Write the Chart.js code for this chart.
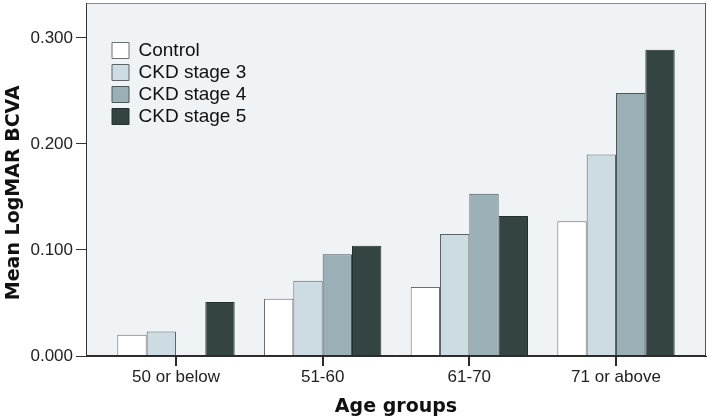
<!DOCTYPE html>
<html>
<head>
<meta charset="utf-8">
<title>Mean LogMAR BCVA by age group</title>
<script src="https://cdn.jsdelivr.net/npm/chart.js@4/dist/chart.umd.min.js"></script>
<style>
	body { margin: 0; background: #fff; }
</style>
</head>
<body>
<canvas id="canvas" width="709" height="420"></canvas>
<script>
var categories = ["50 or below", "51-60", "61-70", "71 or above"];
var control    = [0.020, 0.054, 0.065, 0.127];
var ckd3       = [0.023, 0.071, 0.115, 0.190];
var ckd4       = [null,  0.096, 0.153, 0.248];
var ckd5       = [0.051, 0.104, 0.132, 0.289];
var yTicks     = [0, 0.1, 0.2, 0.3];

// bars sit on a linear x scale so the groups can keep some room at the edges
function points(values) {
	return values.map(function(v, i) { return { x: i, y: v }; });
}

var plotFrame = {
	id: 'plotFrame',
	beforeDraw: function(chart) {
		var a = chart.chartArea, ctx = chart.ctx;
		ctx.save();
		ctx.fillStyle = '#eff3f6';
		ctx.fillRect(a.left, a.top, a.right - a.left, a.bottom - a.top);
		ctx.fillStyle = '#8c8c8c';
		ctx.fillRect(a.left, a.top, a.right - a.left, 1);
		ctx.fillStyle = '#555';
		ctx.fillRect(a.right - 1, a.top, 1, a.bottom - a.top);
		ctx.restore();
	},
	afterDraw: function(chart) {
		// bottom axis line and category tick marks
		var a = chart.chartArea, ctx = chart.ctx, xs = chart.scales.x;
		ctx.save();
		ctx.fillStyle = '#2a2a2a';
		ctx.fillRect(a.left, a.bottom - 1, a.right - a.left, 1.5);
		xs.ticks.forEach(function(t, i) {
			var px = Math.round(xs.getPixelForTick(i));
			ctx.fillRect(px - 1, a.bottom, 2, 10);
		});
		ctx.restore();
	},
	afterLayout: function(chart) {
		// move the legend in from the corner
		chart.legend.left += 23;
		chart.legend.top += 38;
	}
};

var tickFont  = { family: 'Liberation Sans', size: 17 };
var titleFont = { family: 'DejaVu Sans', size: 19, weight: 'bold' };

var ctx = document.getElementById("canvas").getContext("2d");
var chart = new Chart(ctx, {
	type: 'bar',
	data: {
		datasets: [
			{ label: 'Control',     data: points(control), backgroundColor: '#ffffff', borderColor: '#6e6e6e', borderWidth: 1 },
			{ label: 'CKD stage 3', data: points(ckd3),    backgroundColor: '#cddbe2', borderColor: '#5e6466', borderWidth: 1 },
			{ label: 'CKD stage 4', data: points(ckd4),    backgroundColor: '#9aafb6', borderColor: '#4e5658', borderWidth: 1 },
			{ label: 'CKD stage 5', data: points(ckd5),    backgroundColor: '#334443', borderColor: '#253030', borderWidth: 1 }
		]
	},
	options: {
		responsive: false,
		animation: false,
		devicePixelRatio: 1,
		categoryPercentage: 0.8,
		barPercentage: 1.0,
		layout: { padding: { left: 0, top: 3, right: 3, bottom: 0 } },
		scales: {
			x: {
				type: 'linear',
				offset: false,
				min: -0.6135,
				max: 3.6135,
				afterBuildTicks: function(scale) {
					scale.ticks = categories.map(function(c, i) { return { value: i }; });
				},
				ticks: {
					callback: function(v) { return categories[v]; },
					font: tickFont,
					color: '#222',
					padding: 11,
					maxRotation: 0,
					autoSkip: false
				},
				grid: { offset: false, drawOnChartArea: false, drawTicks: false, color: '#333' },
				border: { display: true, color: '#333', width: 1 },
				title: { display: true, text: 'Age groups', font: titleFont, color: '#111', padding: { top: 0, bottom: 2 } },
				afterFit: function(scale) { scale.height = 64; }
			},
			y: {
				min: 0,
				max: 0.333,
				afterBuildTicks: function(scale) {
					scale.ticks = yTicks.map(function(v) { return { value: v }; });
				},
				ticks: {
					callback: function(v) { return v.toFixed(3); },
					font: tickFont,
					color: '#222',
					padding: 3
				},
				grid: { drawOnChartArea: false, tickLength: 10, color: '#333' },
				border: { color: '#333', width: 1 },
				title: { display: true, text: 'Mean LogMAR BCVA    ', font: titleFont, color: '#111', padding: { top: 3, bottom: 0 } },
				afterFit: function(scale) {
					scale.width = 86;
					scale.paddingTop = 0;
					scale.paddingBottom = 0;
				}
			}
		},
		plugins: {
			tooltip: { enabled: false },
			legend: {
				position: 'chartArea',
				align: 'start',
				labels: {
					boxWidth: 17,
					boxHeight: 16,
					padding: 3,
					font: { family: 'Liberation Sans', size: 19 },
					color: '#111'
				}
			}
		}
	},
	plugins: [plotFrame]
});
</script>
</body>
</html>
